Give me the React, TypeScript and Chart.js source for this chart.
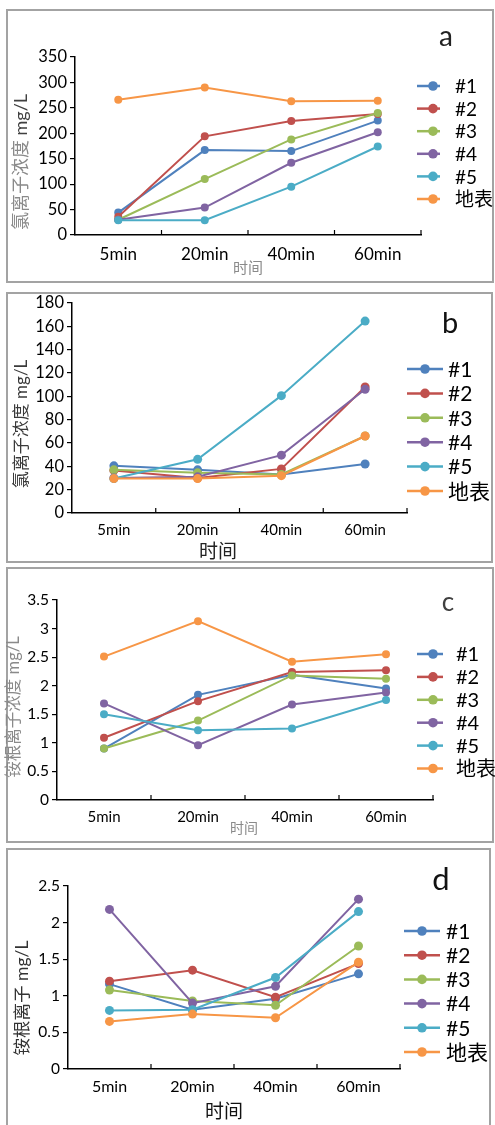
import React, { useEffect, useRef } from "react";
import { Chart, registerables } from "chart.js";
Chart.register(...registerables);

const categories = ["5min", "20min", "40min", "60min"];
const seriesNames = ["#1", "#2", "#3", "#4", "#5", "地表"];
const seriesColors = ["#4F81BD", "#C0504D", "#9BBB59", "#8064A2", "#4BACC6", "#F79646"];

// panel a: 氯离子浓度 mg/L
const a1 = [44, 167, 165, 225];
const a2 = [36, 194, 224, 238];
const a3 = [30, 110, 188, 240];
const a4 = [30, 54, 142, 202];
const a5 = [29, 29, 95, 174];
const a6 = [266, 290, 263, 264];
const aTicks = { max: 350, step: 50 };

// panel b: 氯离子浓度 mg/L
const b1 = [40.4, 37, 33, 42];
const b2 = [36.5, 30, 37.8, 108];
const b3 = [37, 34.4, 33, 66];
const b4 = [30, 31, 49.6, 106];
const b5 = [29.5, 46, 100.6, 164.5];
const b6 = [29.5, 29.5, 32, 66];
const bTicks = { max: 180, step: 20 };

// panel c: 铵根离子浓度 mg/L
const c1 = [0.9, 1.84, 2.19, 1.95];
const c2 = [1.09, 1.73, 2.24, 2.27];
const c3 = [0.9, 1.39, 2.18, 2.12];
const c4 = [1.69, 0.96, 1.67, 1.88];
const c5 = [1.5, 1.22, 1.25, 1.75];
const c6 = [2.51, 3.13, 2.42, 2.55];
const cTicks = { max: 3.5, step: 0.5 };

// panel d: 铵根离子 mg/L
const d1 = [1.16, 0.81, 0.96, 1.3];
const d2 = [1.2, 1.35, 0.98, 1.44];
const d3 = [1.08, 0.93, 0.87, 1.68];
const d4 = [2.18, 0.9, 1.13, 2.32];
const d5 = [0.8, 0.81, 1.25, 2.15];
const d6 = [0.65, 0.75, 0.7, 1.46];
const dTicks = { max: 2.5, step: 0.5 };

const FONT = 'Lato, "Noto Sans CJK SC", sans-serif';

type Part = { t: string; c: string };
type Cfg = {
  series: number[][];
  ticks: { max: number; step: number };
  box: { l: number; t: number; w: number; h: number };
  canvasTop: number;
  canvasH: number;
  plot: { l: number; r: number; t: number; b: number };
  yFont: number;
  xFont: number;
  xPad: number;
  pointR: number;
  legend: { x1: number; x2: number; mx: number; tx: number; y: number; step: number; font: number };
  letter: { t: string; x: number; y: number; size: number; color: string };
  yTitle: { parts: Part[]; x: number; y: number; size: number };
  xTitle: { t: string; x: number; y: number; size: number; color: string };
};

const panels: Cfg[] = [
  {
    series: [a1, a2, a3, a4, a5, a6],
    ticks: aTicks,
    box: { l: 6, t: 9, w: 488, h: 274 },
    canvasTop: 0,
    canvasH: 288,
    plot: { l: 75, r: 421, t: 57, b: 235 },
    yFont: 16.5,
    xFont: 17,
    xPad: 9,
    pointR: 4,
    legend: { x1: 417, x2: 440, mx: 433, tx: 455, y: 86, step: 22.6, font: 19 },
    letter: { t: "a", x: 446, y: 37, size: 28, color: "#222" },
    yTitle: {
      parts: [
        { t: "氯离子浓度 ", c: "#8a8a8a" },
        { t: "mg/L", c: "#404040" },
      ],
      x: 21,
      y: 162,
      size: 18,
    },
    xTitle: { t: "时间", x: 248, y: 268, size: 15, color: "#8a8a8a" },
  },
  {
    series: [b1, b2, b3, b4, b5, b6],
    ticks: bTicks,
    box: { l: 6, t: 292, w: 487, h: 271 },
    canvasTop: 285,
    canvasH: 280,
    plot: { l: 72, r: 407, t: 18, b: 228 },
    yFont: 16.5,
    xFont: 15,
    xPad: 8,
    pointR: 4.5,
    legend: { x1: 407, x2: 443, mx: 425, tx: 448, y: 84, step: 24.4, font: 21 },
    letter: { t: "b", x: 450, y: 39, size: 29, color: "#111" },
    yTitle: {
      parts: [{ t: "氯离子浓度 mg/L", c: "#3a3a3a" }],
      x: 22,
      y: 139,
      size: 17,
    },
    xTitle: { t: "时间", x: 218, y: 267, size: 19, color: "#222" },
  },
  {
    series: [c1, c2, c3, c4, c5, c6],
    ticks: cTicks,
    box: { l: 6, t: 567, w: 488, h: 276 },
    canvasTop: 560,
    canvasH: 285,
    plot: { l: 57, r: 433, t: 40, b: 240 },
    yFont: 15.5,
    xFont: 15,
    xPad: 8,
    pointR: 4,
    legend: { x1: 417, x2: 443, mx: 433, tx: 456, y: 94, step: 22.9, font: 20 },
    letter: { t: "c", x: 448, y: 43, size: 26, color: "#404040" },
    yTitle: {
      parts: [{ t: "铵根离子浓度 mg/L", c: "#8a8a8a" }],
      x: 14,
      y: 147,
      size: 16.5,
    },
    xTitle: { t: "时间", x: 244, y: 268, size: 14, color: "#8a8a8a" },
  },
  {
    series: [d1, d2, d3, d4, d5, d6],
    ticks: dTicks,
    box: { l: 6, t: 848, w: 485, h: 300 },
    canvasTop: 840,
    canvasH: 285,
    plot: { l: 68, r: 400, t: 46, b: 229 },
    yFont: 15.5,
    xFont: 16,
    xPad: 8,
    pointR: 4.5,
    legend: { x1: 404, x2: 440, mx: 422, tx: 446, y: 91, step: 24.2, font: 21 },
    letter: { t: "d", x: 441, y: 40, size: 31, color: "#111" },
    yTitle: {
      parts: [{ t: "铵根离子 mg/L", c: "#333" }],
      x: 22,
      y: 158,
      size: 17.5,
    },
    xTitle: { t: "时间", x: 224, y: 272, size: 19, color: "#111" },
  },
];

function makeDecor(cfg: Cfg) {
  return {
    id: "decor",
    afterDraw(chart: any) {
      const ctx: CanvasRenderingContext2D = chart.ctx;
      const xs = chart.scales.x;
      ctx.save();
      // inside tick marks on the category axis (at category boundaries)
      const n = xs.ticks.length;
      ctx.strokeStyle = "#000";
      ctx.lineWidth = 1.2;
      for (let i = 1; i <= n; i++) {
        const px = xs.left + (i * (xs.right - xs.left)) / n;
        ctx.beginPath();
        ctx.moveTo(px, xs.top);
        ctx.lineTo(px, xs.top - 5);
        ctx.stroke();
      }
      // legend
      const L = cfg.legend;
      chart.data.datasets.forEach((ds: any, i: number) => {
        const yy = L.y + i * L.step;
        ctx.strokeStyle = ds.borderColor;
        ctx.lineWidth = 2.5;
        ctx.beginPath();
        ctx.moveTo(L.x1, yy);
        ctx.lineTo(L.x2, yy);
        ctx.stroke();
        ctx.fillStyle = ds.borderColor;
        ctx.beginPath();
        ctx.arc(L.mx, yy, 4.8, 0, Math.PI * 2);
        ctx.fill();
        ctx.fillStyle = "#000";
        ctx.font = `${L.font}px ${FONT}`;
        ctx.textAlign = "left";
        ctx.textBaseline = "middle";
        ctx.fillText(ds.label, L.tx, yy + 1);
      });
      // panel letter
      const T = cfg.letter;
      ctx.fillStyle = T.color;
      ctx.font = `${T.size}px ${FONT}`;
      ctx.textAlign = "center";
      ctx.textBaseline = "middle";
      ctx.fillText(T.t, T.x, T.y);
      // x title
      const X = cfg.xTitle;
      ctx.fillStyle = X.color;
      ctx.font = `${X.size}px ${FONT}`;
      ctx.fillText(X.t, X.x, X.y);
      // y title (rotated, multi-colour)
      const Y = cfg.yTitle;
      ctx.font = `${Y.size}px ${FONT}`;
      const widths = Y.parts.map((p) => ctx.measureText(p.t).width);
      const total = widths.reduce((s, w) => s + w, 0);
      ctx.translate(Y.x, Y.y);
      ctx.rotate(-Math.PI / 2);
      ctx.textAlign = "left";
      let cx = -total / 2;
      Y.parts.forEach((p, i) => {
        ctx.fillStyle = p.c;
        ctx.fillText(p.t, cx, 0);
        cx += widths[i];
      });
      ctx.restore();
    },
  };
}

function Panel({ cfg }: { cfg: Cfg }) {
  const ref = useRef<HTMLCanvasElement>(null);
  useEffect(() => {
    const W = 495;
    const H = cfg.canvasH;
    const P = cfg.plot;
    const n = cfg.series.length;
    const chart = new Chart(ref.current as HTMLCanvasElement, {
      type: "line",
      data: {
        labels: categories,
        datasets: cfg.series.map((vals, i) => ({
          label: seriesNames[i],
          data: vals,
          borderColor: seriesColors[i],
          backgroundColor: seriesColors[i],
          pointBackgroundColor: seriesColors[i],
          pointBorderWidth: 0,
          pointRadius: cfg.pointR,
          borderWidth: 2,
          tension: 0,
          fill: false,
          order: n - i,
        })),
      },
      options: {
        responsive: false,
        animation: false,
        layout: { padding: { top: P.t, right: W - P.r, left: 0, bottom: 0 } },
        plugins: { legend: { display: false }, tooltip: { enabled: false } },
        scales: {
          x: {
            type: "category",
            offset: true,
            grid: { display: false, drawTicks: false },
            border: { display: true, color: "#000", width: 1.5 },
            ticks: {
              color: "#000",
              padding: cfg.xPad,
              maxRotation: 0,
              autoSkip: false,
              font: { family: FONT, size: cfg.xFont },
            },
            afterFit: (s: any) => {
              s.height = H - P.b;
            },
          },
          y: {
            min: 0,
            max: cfg.ticks.max,
            ticks: {
              stepSize: cfg.ticks.step,
              color: "#000",
              padding: 3,
              font: { family: FONT, size: cfg.yFont },
              callback: (v: any) => String(Math.round(Number(v) * 100) / 100),
            },
            grid: {
              display: true,
              drawOnChartArea: false,
              drawTicks: true,
              tickLength: 5,
              color: "#000",
              lineWidth: 1.2,
            },
            border: { display: true, color: "#000", width: 1.5 },
            afterFit: (s: any) => {
              s.width = P.l;
            },
          },
        },
      },
      plugins: [makeDecor(cfg)],
    });
    return () => chart.destroy();
  }, []);
  return (
    <>
      <div
        style={{
          position: "absolute",
          left: cfg.box.l,
          top: cfg.box.t,
          width: cfg.box.w,
          height: cfg.box.h,
          border: "2px solid #a3a3a3",
          boxSizing: "border-box",
        }}
      />
      <canvas
        ref={ref}
        width={495}
        height={cfg.canvasH}
        style={{ position: "absolute", left: 0, top: cfg.canvasTop, width: 495, height: cfg.canvasH }}
      />
    </>
  );
}

export default function App() {
  return (
    <div
      style={{
        position: "absolute",
        left: 0,
        top: 0,
        width: 495,
        height: 1125,
        overflow: "hidden",
        background: "#fff",
      }}
    >
      {panels.map((p, i) => (
        <Panel key={i} cfg={p} />
      ))}
    </div>
  );
}
